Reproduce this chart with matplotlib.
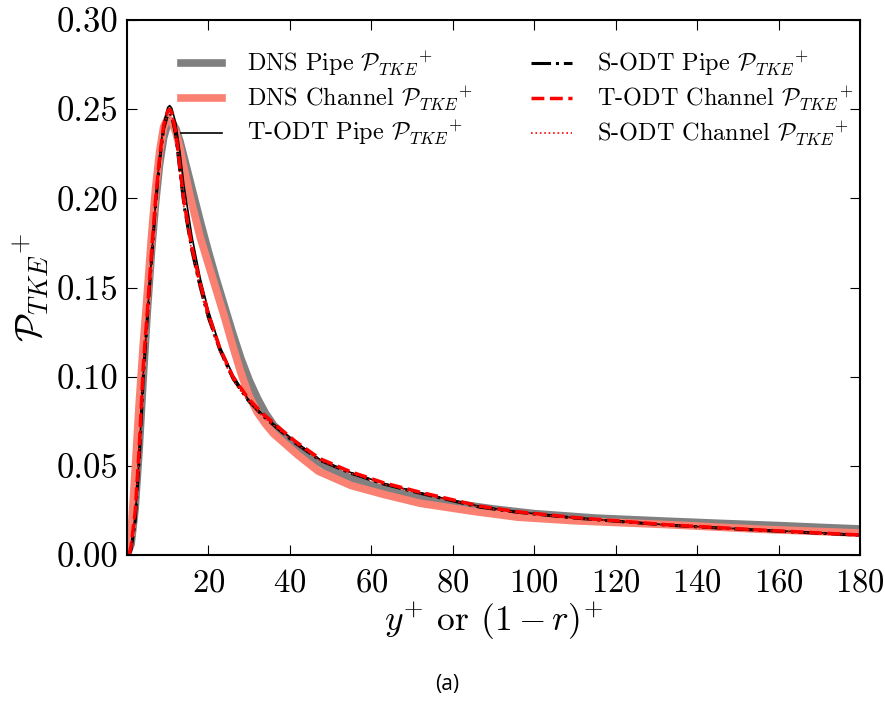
import matplotlib
matplotlib.use('Agg')
import matplotlib.pyplot as plt

plt.rcParams['font.family'] = ['cmr10', 'DejaVu Serif']
plt.rcParams['mathtext.fontset'] = 'cm'
plt.rcParams['axes.formatter.use_mathtext'] = True

# DNS pipe
x_dns_pipe = [0, 1, 2, 3, 4, 5, 6, 7, 8, 9, 10, 11, 12, 13, 14, 16, 18, 20, 22, 24, 26, 28, 30,
              32, 34, 36, 38, 40, 45, 50, 56, 63, 72, 80, 90, 100, 115, 130, 145, 160, 170, 180]
y_dns_pipe = [0.0, 0.006, 0.026, 0.060, 0.100, 0.137, 0.170, 0.197, 0.219, 0.234, 0.242, 0.243,
              0.239, 0.232, 0.223, 0.205, 0.187, 0.170, 0.154, 0.139, 0.124, 0.110, 0.098,
              0.088, 0.0795, 0.0728, 0.068, 0.064, 0.055, 0.048, 0.042, 0.037, 0.032, 0.029,
              0.0258, 0.0232, 0.0207, 0.0192, 0.0178, 0.0165, 0.0155, 0.0146]

# DNS channel
x_dns_chan = [0, 1, 2, 3, 4, 5, 6, 7, 8, 9, 10, 11, 12, 13, 14, 15.5, 18, 20, 22, 24, 26, 28, 30,
              32, 34, 36, 38.5, 42, 47, 55, 63, 72, 85, 96, 110, 133, 155, 180]
y_dns_chan = [0.0, 0.012, 0.047, 0.085, 0.118, 0.147, 0.178, 0.205, 0.226, 0.240, 0.245, 0.243,
              0.237, 0.228, 0.217, 0.201, 0.178, 0.163, 0.148, 0.133, 0.117, 0.102, 0.089,
              0.080, 0.0735, 0.068, 0.063, 0.056, 0.047, 0.039, 0.034, 0.029, 0.0245, 0.0212,
              0.0192, 0.0170, 0.0145, 0.0123]

# ODT runs share one y+ grid
x_odt = [0.5, 1, 2, 3, 4, 5, 6, 7, 8, 9, 10, 10.5, 11, 12, 13, 14, 16, 18, 20, 22.8, 26, 29.7,
         33, 36, 41.3, 47.4, 55, 63, 72, 86.7, 95.7, 110, 133, 155, 180]

y_todt_pipe = [0.0, 0.004, 0.020, 0.055, 0.101, 0.134, 0.166, 0.197, 0.223, 0.242, 0.251, 0.252,
               0.2505, 0.242, 0.226, 0.207, 0.178, 0.155, 0.137, 0.117, 0.101, 0.0875,
               0.0795, 0.0735, 0.0635, 0.0535, 0.0462, 0.0402, 0.0348, 0.0272, 0.0242,
               0.0208, 0.0168, 0.0141, 0.0113]

y_sodt_pipe = [0.0, 0.003, 0.019, 0.054, 0.100, 0.133, 0.165, 0.196, 0.221, 0.239, 0.247, 0.248,
               0.246, 0.235, 0.215, 0.196, 0.170, 0.150, 0.133, 0.115, 0.099, 0.0868,
               0.0788, 0.0728, 0.0628, 0.0531, 0.0458, 0.0398, 0.0346, 0.0268, 0.0240,
               0.0207, 0.0167, 0.0139, 0.0111]

y_todt_chan = [0.0, 0.005, 0.024, 0.060, 0.106, 0.137, 0.169, 0.199, 0.223, 0.241, 0.249, 0.250,
               0.248, 0.237, 0.217, 0.198, 0.172, 0.152, 0.135, 0.116, 0.100, 0.0880,
               0.0800, 0.0740, 0.0638, 0.0540, 0.0466, 0.0405, 0.0352, 0.0274, 0.0243,
               0.0210, 0.0169, 0.0141, 0.0112]

y_sodt_chan = [0.0, 0.005, 0.023, 0.058, 0.104, 0.136, 0.168, 0.198, 0.222, 0.240, 0.248, 0.249,
               0.247, 0.235, 0.214, 0.195, 0.169, 0.149, 0.132, 0.114, 0.098, 0.0865,
               0.0785, 0.0727, 0.0627, 0.0530, 0.0457, 0.0398, 0.0345, 0.0268, 0.0239,
               0.0206, 0.0166, 0.0139, 0.0111]

x_ticks = [20, 40, 60, 80, 100, 120, 140, 160, 180]
y_ticks = [0.00, 0.05, 0.10, 0.15, 0.20, 0.25, 0.30]

P = r'${\mathcal{P}_{TKE}}^{+}$'

fig = plt.figure(figsize=(8.85, 7.02), dpi=100)
ax = fig.add_axes([0.1435, 0.2094, 0.8283, 0.7621])

ax.plot(x_dns_pipe, y_dns_pipe, color='gray', lw=5.5, label='DNS Pipe ' + P)
ax.plot(x_dns_chan, y_dns_chan, color='salmon', lw=5.5, label='DNS Channel ' + P)
ax.plot(x_odt, y_todt_pipe, color='black', lw=1.2, label='T-ODT Pipe ' + P)
ax.plot(x_odt, y_sodt_pipe, color='black', lw=2.2, ls='-.', label='S-ODT Pipe ' + P)
ax.plot(x_odt, y_todt_chan, color='red', lw=2.5, ls='--', label='T-ODT Channel ' + P)
ax.plot(x_odt, y_sodt_chan, color='red', lw=1.2, ls=':', label='S-ODT Channel ' + P)

ax.set_xlim(0, 180)
ax.set_ylim(0, 0.30)
ax.set_xticks(x_ticks)
ax.set_yticks(y_ticks)
ax.set_yticklabels(['%.2f' % v for v in y_ticks])
ax.tick_params(direction='in', top=True, right=True, length=7, width=0.8)
ax.tick_params(axis='x', pad=10, labelsize=23.5)
ax.tick_params(axis='y', pad=6, labelsize=25)
for s in ax.spines.values():
    s.set_linewidth(1.5)

ax.set_xlabel(r'$y^{+}$ or $(1-r)^{+}$', fontsize=25.5, labelpad=2)
ax.set_ylabel(P, fontsize=27)
ax.yaxis.set_label_coords(-0.104, 0.5)

ax.legend(loc='upper right', ncol=2, frameon=False, fontsize=17.5, handlelength=1.7,
          handletextpad=1.0, columnspacing=2.4, labelspacing=0.25,
          bbox_to_anchor=(1.02, 0.985))

fig.text(0.505, 0.025, '(a)', ha='center', va='center', fontsize=15, family='Open Sans')

fig.savefig('out.png', dpi=100)
